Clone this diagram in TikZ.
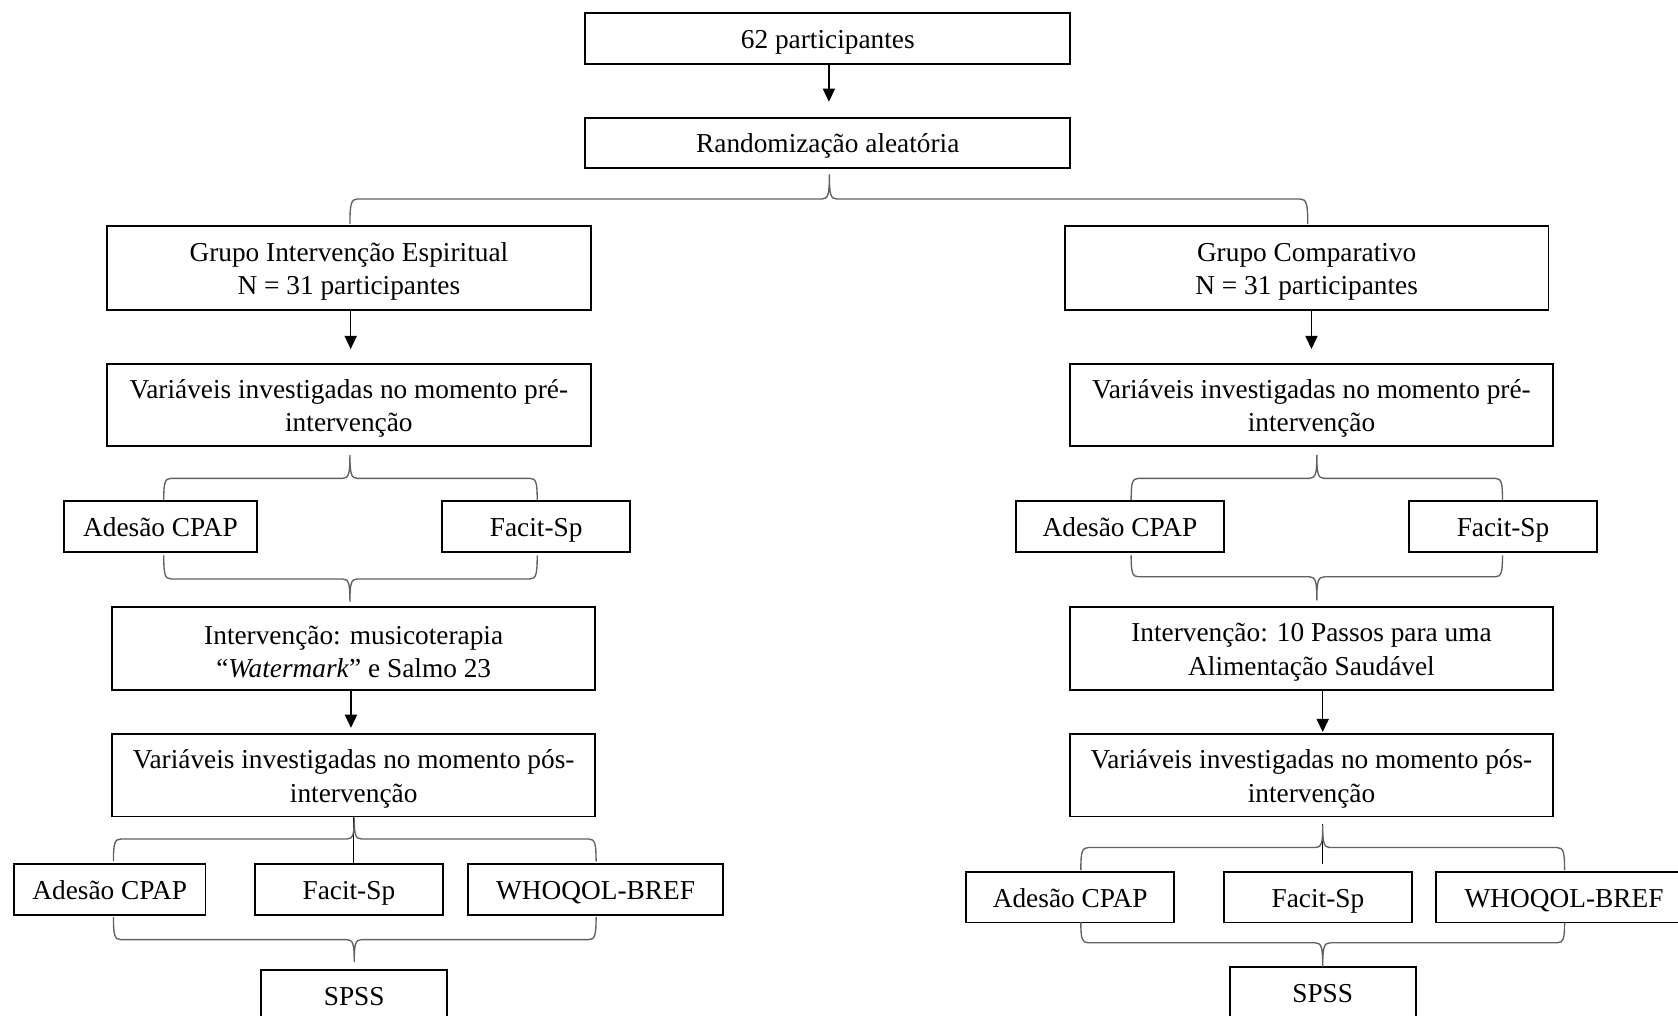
\documentclass[tikz,border=0pt]{standalone}
\usepackage{fontspec}
\setmainfont{Liberation Serif}
\usetikzlibrary{arrows.meta}
\newcommand\mybrace[6]{% x1 x2 xm yend yh ytip
  \draw[bracestyle] (#1,#4) .. controls (#1,{#5+0.2*(#4-#5)}) and ({#1+1},#5) .. ({#1+7},#5)
    -- ({#3-7},#5) .. controls ({#3-1},#5) and (#3,{#5+0.2*(#6-#5)}) .. (#3,#6)
    .. controls (#3,{#5+0.2*(#6-#5)}) and ({#3+1},#5) .. ({#3+7},#5)
    -- ({#2-7},#5) .. controls ({#2-1},#5) and (#2,{#5+0.2*(#4-#5)}) .. (#2,#4);}
\begin{document}
\begin{tikzpicture}[x=0.47pt,y=-0.47pt,
  font=\fontsize{12}{14.6}\selectfont,
  box/.style={draw=black, line width=0.85pt, inner sep=0pt, fill=white},
  lab/.style={align=center, inner sep=0pt, yshift=-1.6pt},
  lab1/.style={lab, text height=8.3pt, text depth=2.65pt},
  arr/.style={draw=black, line width=0.55pt, -{Triangle[width=5.4pt,length=5.8pt]}},
  vline/.style={draw=black, line width=0.6pt},
  bracestyle/.style={draw=black!62, line width=0.6pt}]
\useasboundingbox (0,0) rectangle (1568,949.4);
\clip (0,0) rectangle (1568,949.4);

% top
\node[box, minimum width=212.9pt, minimum height=22.56pt, label={[lab1]center:62 participantes}] (p62) at (773.5,36) {};
\node[box, minimum width=212.9pt, minimum height=22.09pt, label={[lab1]center:Randomização aleatória}] (rand) at (773.5,133.5) {};

% groups
\node[box, minimum width=212.44pt, minimum height=37.13pt, label={[lab]center:{Grupo Intervenção Espiritual\\N = 31 participantes}}] (gie) at (326,250.5) {};
\node[box, minimum width=212.44pt, minimum height=37.13pt, label={[lab]center:{Grupo Comparativo\\N = 31 participantes}}] (gc) at (1221,250.5) {};

% pre
\node[box, minimum width=212.44pt, minimum height=36.19pt, label={[lab]center:{Variáveis investigadas no momento pré-\\intervenção}}] (preL) at (326,378.5) {};
\node[box, minimum width=211.97pt, minimum height=36.19pt, label={[lab]center:{Variáveis investigadas no momento pré-\\intervenção}}] (preR) at (1225.5,378.5) {};

% pre instruments
\node[box, minimum width=84.6pt, minimum height=22.56pt, label={[lab1]center:Adesão CPAP}] (adL) at (150,492) {};
\node[box, minimum width=82.72pt, minimum height=22.56pt, label={[lab1]center:Facit-Sp}] (faL) at (501,492) {};
\node[box, minimum width=91.65pt, minimum height=22.56pt, label={[lab1]center:Adesão CPAP}] (adR) at (1046.5,492) {};
\node[box, minimum width=82.25pt, minimum height=22.56pt, label={[lab1]center:Facit-Sp}] (faR) at (1404.5,492) {};

% interventions
\node[box, minimum width=211.97pt, minimum height=36.66pt, label={[lab]center:{Intervenção: musicoterapia\\“\textit{Watermark}” e Salmo 23}}] (intL) at (330.5,606) {};
\node[box, minimum width=211.97pt, minimum height=36.66pt, label={[lab]center:{Intervenção: 10 Passos para uma\\Alimentação Saudável}}] (intR) at (1225.5,606) {};

% post
\node[box, minimum width=211.97pt, minimum height=36.19pt, label={[lab]center:{Variáveis investigadas no momento pós-\\intervenção}}] (posL) at (330.5,724.5) {};
\node[box, minimum width=211.97pt, minimum height=36.19pt, label={[lab]center:{Variáveis investigadas no momento pós-\\intervenção}}] (posR) at (1225.5,724.5) {};

% post instruments
\node[box, minimum width=84.13pt, minimum height=22.56pt, label={[lab1]center:Adesão CPAP}] (ad2L) at (102.5,831) {};
\node[box, minimum width=82.72pt, minimum height=22.56pt, label={[lab1]center:Facit-Sp}] (fa2L) at (326,831) {};
\node[box, minimum width=112.3pt, minimum height=22.56pt, label={[lab1]center:WHOQOL-BREF}] (whL) at (556.5,831) {};
\node[box, minimum width=91.18pt, minimum height=22.09pt, label={[lab1]center:Adesão CPAP}] (ad2R) at (1000,838.5) {};
\node[box, minimum width=82.25pt, minimum height=22.09pt, label={[lab1]center:Facit-Sp}] (fa2R) at (1231.5,838.5) {};
\node[box, minimum width=112.33pt, minimum height=22.09pt, label={[lab1]center:WHOQOL-BREF}] (whR) at (1461.5,838.5) {};

% SPSS
\node[box, minimum width=81.78pt, minimum height=22.56pt, label={[lab1]center:SPSS}] (spL) at (331,930.5) {};
\node[box, minimum width=81.78pt, minimum height=22.56pt, label={[lab1]center:SPSS}] (spR) at (1236,927.5) {};

% arrows
\draw[arr] ([xshift=0.5pt]p62.south) -- ([xshift=0.5pt,yshift=6.6pt]rand.north);
\draw[arr] ([xshift=0.8pt]gie.south) -- ([xshift=0.8pt,yshift=6.1pt]preL.north);
\draw[arr] (gc.south -| preR.north) -- ([yshift=6.1pt]preR.north);
\draw[arr] ([xshift=-1.2pt]intL.south) -- ([xshift=-1.2pt,yshift=2.35pt]posL.north);
\draw[arr] ([xshift=4.94pt]intR.south) -- ([xshift=4.94pt,yshift=0.5pt]posR.north);

% vertical lines to post instruments
\draw[vline] (posL.south) -- (posL.south |- fa2L.north);
\draw[vline] ([xshift=2.1pt,yshift=3.3pt]fa2R.north) -- ++(0,-37);

% braces
\mybrace{327}{1222}{775}{209.5}{186}{163}
\mybrace{153}{502}{327}{467}{447}{425}
\mybrace{153}{502}{327}{519}{541}{562.5}
\mybrace{1057}{1404}{1230.5}{467}{447}{425}
\mybrace{1057}{1404}{1230.5}{519}{539}{561}
\mybrace{106}{557}{331}{805}{784}{764}
\mybrace{106}{557}{331}{857}{878}{899}
\mybrace{1010}{1462}{1236}{813}{792}{771}
\mybrace{1010}{1462}{1236}{862}{881}{903.5}
\end{tikzpicture}
\end{document}
